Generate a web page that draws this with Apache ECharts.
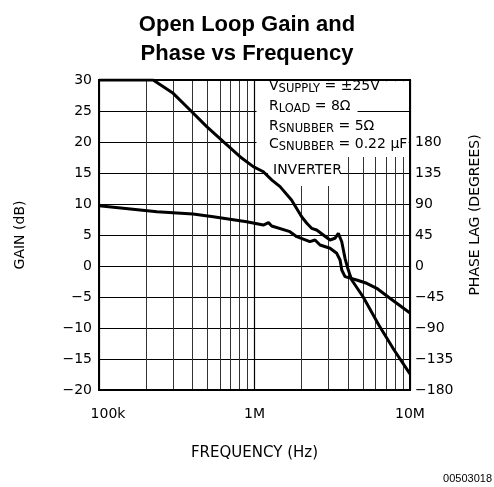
<!DOCTYPE html>
<html>
<head>
<meta charset="utf-8">
<script src="https://cdn.jsdelivr.net/npm/echarts@6/dist/echarts.min.js"></script>
<style>
html,body{margin:0;padding:0;background:#fff;}
#c{width:494px;height:487px;}
</style>
</head>
<body>
<div id="c"></div>
<script>
// ---- data ----
const gainFreq = [1e5, 2.23e5, 3.0e5, 3.85e5, 4.93e5, 6.3e5, 8.07e5, 9.82e5, 1.14e6, 1.3e6, 1.46e6, 1.73e6, 2.01e6, 2.17e6, 2.33e6, 2.51e6, 2.77e6, 3.06e6, 3.29e6, 3.46e6, 3.64e6, 3.82e6, 4.01e6, 4.22e6, 5.0e6, 6.3e6, 7.9e6, 1e7];
const gainDb   = [30, 30, 27.85, 25.16, 22.47, 20.05, 17.63, 16.02, 15.2, 13.8, 12.8, 10.65, 7.95, 6.89, 6.08, 5.8, 5.0, 4.19, 4.47, 5.27, 3.92, 1.24, -0.65, -2.26, -5.0, -9.52, -13.55, -17.4];
const phaseFreq = [1e5, 2.36e5, 4.02e5, 5.43e5, 8.07e5, 8.91e5, 1.14e6, 1.23e6, 1.29e6, 1.69e6, 1.87e6, 2.27e6, 2.45e6, 2.64e6, 3.06e6, 3.38e6, 3.55e6, 3.64e6, 3.82e6, 4.54e6, 5.27e6, 6.11e6, 7.43e6, 1e7];
const phaseDeg  = [87.6, 78.8, 75.5, 71.6, 65.8, 64.3, 59.5, 62.9, 58.1, 49.8, 42.5, 35.3, 37.7, 30.5, 25.7, 18.4, 8.7, -5.8, -15.5, -20.3, -25.1, -32.4, -46.9, -68.2];
const freqTickValues = [1e5, 1e6, 1e7];
const freqTickLabels = ['100k', '1M', '10M'];
const minorFreqs = [2e5, 3e5, 4e5, 5e5, 6e5, 7e5, 8e5, 9e5, 2e6, 3e6, 4e6, 5e6, 6e6, 7e6, 8e6, 9e6];
const gainTicks = [-20, -15, -10, -5, 0, 5, 10, 15, 20, 25, 30];
const phaseTicks = [-180, -135, -90, -45, 0, 45, 90, 135, 180];

const FONT = 'DejaVu Sans';
const minus = s => String(s).replace('-', '\u2212');

const chart = echarts.init(document.getElementById('c'), null, {renderer: 'canvas'});

const zip = (a, b) => a.map((v, i) => [v, b[i]]);

const option = {
  animation: false,
  backgroundColor: '#fff',
  title: {
    text: 'Open Loop Gain and\nPhase vs Frequency',
    left: 'center',
    top: 5,
    textStyle: {fontFamily: 'Liberation Sans', fontWeight: 'bold', fontSize: 22, lineHeight: 29, color: '#000'}
  },
  grid: {left: 99, right: 84, top: 80, bottom: 97, containLabel: false},
  xAxis: [{
    type: 'log', logBase: 10, min: 1e5, max: 1e7, z: 10,
    axisLine: {show: true, onZero: false, lineStyle: {color: '#000', width: 2}},
    axisTick: {show: false},
    splitLine: {show: false},
    axisLabel: {
      margin: 17, color: '#000', fontFamily: FONT, fontSize: 14,
      formatter: v => {
        const i = freqTickValues.findIndex(t => Math.abs(t - v) / t < 1e-6);
        if (i < 0) return '';
        return i === 0 ? '{a|' + freqTickLabels[i] + '}' : freqTickLabels[i];
      },
      rich: {a: {fontFamily: FONT, fontSize: 14, color: '#000', padding: [0, 0, 0, 18]}}
    },
    name: 'FREQUENCY (Hz)', nameLocation: 'middle', nameGap: 56,
    nameTextStyle: {fontFamily: FONT, fontSize: 15, color: '#000'}
  }, {
    type: 'log', logBase: 10, min: 1e5, max: 1e7, position: 'top', z: 0,
    axisLine: {show: false},
    axisTick: {show: false}, axisLabel: {show: false},
    splitLine: {show: true, lineStyle: {color: '#000', width: 1.2}}
  }],
  yAxis: [{
    type: 'value', min: -20, max: 30, interval: 5, z: 0,
    axisLine: {show: false},
    axisTick: {show: false},
    splitLine: {show: true, lineStyle: {color: '#000', width: 1.2}},
    axisLabel: {margin: 7, color: '#000', fontFamily: FONT, fontSize: 14,
      formatter: v => gainTicks.includes(v) ? minus(v) : ''},
    name: 'GAIN (dB)', nameLocation: 'middle', nameGap: 72, nameRotate: 90,
    nameTextStyle: {fontFamily: FONT, fontSize: 14, color: '#000'}
  }, {
    type: 'value', min: -180, max: 270, interval: 45, position: 'right', z: 10,
    axisLine: {show: true, onZero: false, lineStyle: {color: '#000', width: 2}},
    axisTick: {show: false}, splitLine: {show: false},
    axisLabel: {margin: 5, color: '#000', fontFamily: FONT, fontSize: 14,
      formatter: v => phaseTicks.includes(v) ? minus(v) : ''}
  }],
  series: [
    { // minor vertical grid lines
      type: 'line', z: 1, silent: true, data: [[1e5, -20]], showSymbol: false,
      lineStyle: {opacity: 0},
      markLine: {
        z: 1, silent: true, symbol: 'none', animation: false,
        label: {show: false},
        lineStyle: {color: '#333', width: 1, type: 'solid'},
        emphasis: {disabled: true},
        data: minorFreqs.map(f => ({xAxis: f}))
      }
    },
    { // 25 dB grid line visible right of the R_LOAD text
      type: 'line', z: 3, silent: true, data: [[1e5, -20]], showSymbol: false,
      lineStyle: {opacity: 0},
      markLine: {
        z: 3, silent: true, symbol: 'none', animation: false,
        label: {show: false},
        lineStyle: {color: '#000', width: 1.2, type: 'solid'},
        emphasis: {disabled: true},
        data: [[{coord: [4.6e6, 25]}, {coord: [1e7, 25]}]]
      }
    },
    {
      name: 'Gain', type: 'line', z: 5, xAxisIndex: 0, yAxisIndex: 0,
      data: zip(gainFreq, gainDb), showSymbol: false, smooth: false,
      lineStyle: {color: '#000', width: 3}, silent: true
    },
    {
      name: 'Phase', type: 'line', z: 5, xAxisIndex: 0, yAxisIndex: 1,
      data: zip(phaseFreq, phaseDeg), showSymbol: false, smooth: false,
      lineStyle: {color: '#000', width: 3}, silent: true
    }
  ]
};
chart.setOption(option);

// plot frame and white masks, placed from data coordinates
function px(f, d) { return chart.convertToPixel({gridIndex: 0}, [f, d]); }
function box(f1, d1, f2, d2) {
  const p1 = px(f1, d1), p2 = px(f2, d2);
  return {type: 'rect', z: 2, silent: true,
    shape: {x: Math.min(p1[0], p2[0]), y: Math.min(p1[1], p2[1]),
            width: Math.abs(p2[0] - p1[0]), height: Math.abs(p2[1] - p1[1])},
    style: {fill: '#fff', stroke: null}};
}
const tl = px(1e5, 30), br = px(1e7, -20);
const graphics = [
  box(1.03e6, 29.8, 9.8e6, 17.6),
  box(1.22e6, 17.6, 3.6e6, 12.9),
  {type: 'rect', z: 20, silent: true,
   shape: {x: tl[0], y: tl[1], width: br[0] - tl[0], height: br[1] - tl[1]},
   style: {fill: null, stroke: '#000', lineWidth: 2}}
];
const m = {fontFamily: FONT, fontSize: 14, fill: '#000', lineHeight: 16, verticalAlign: 'top'};
const s = {fontFamily: FONT, fontSize: 11.5, fill: '#000', lineHeight: 13, padding: [7, 0, 0, 0], verticalAlign: 'bottom'};
const lines = [
  ['{m|V}{s|SUPPLY}{m| = \u00b125V}', 79],
  ['{m|R}{s|LOAD}{m| = 8\u03a9}', 99],
  ['{m|R}{s|SNUBBER}{m| = 5\u03a9}', 119],
  ['{m|C}{s|SNUBBER}{m| = 0.22 \u03bcF}', 137.5]
];
lines.forEach(([t, y]) => graphics.push({
  type: 'text', x: 269, y: y, z: 100, silent: true,
  style: {text: t, rich: {m: m, s: s}, verticalAlign: 'top', align: 'left'}
}));
graphics.push({type: 'text', x: 273, y: 163, z: 100, silent: true,
  style: {text: 'INVERTER', fontFamily: FONT, fontSize: 14, fill: '#000', verticalAlign: 'top'}});
graphics.push({type: 'text', x: 475, y: 215, rotation: Math.PI / 2, z: 100, silent: true,
  style: {text: 'PHASE LAG (DEGREES)', fontFamily: FONT, fontSize: 14, fill: '#000', align: 'center', verticalAlign: 'middle'}});
graphics.push({type: 'text', x: 492, y: 473, z: 100, silent: true,
  style: {text: '00503018', fontFamily: 'Liberation Sans', fontSize: 11, fill: '#000', align: 'right', verticalAlign: 'top'}});
chart.setOption({graphic: graphics});
</script>
</body>
</html>
